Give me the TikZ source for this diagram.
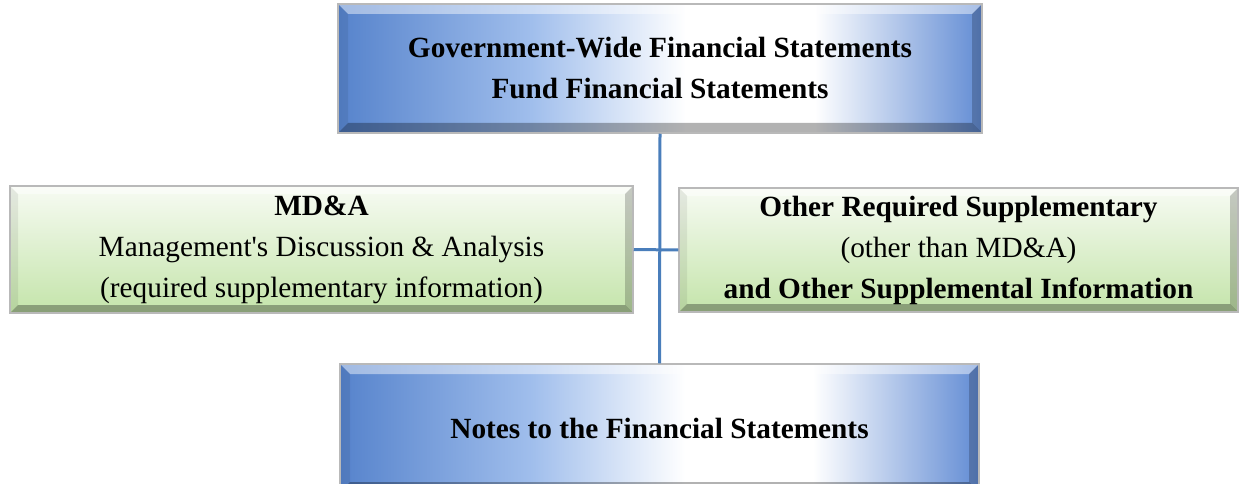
\documentclass[tikz,border=0pt]{standalone}
\usepackage{fontspec}
\setmainfont{Liberation Serif}[Ligatures=TeXOff]
\usetikzlibrary{calc}
\definecolor{bL}{RGB}{86,131,204}
\definecolor{bQ}{RGB}{160,190,236}
\definecolor{bR}{RGB}{98,140,212}
\definecolor{gT}{RGB}{247,251,243}
\definecolor{gB}{RGB}{196,228,170}
\definecolor{lineblue}{RGB}{74,126,187}
\definecolor{rim}{RGB}{185,185,185}
\pgfdeclarehorizontalshading{bluegrad}{100bp}{color(0bp)=(bL); color(25bp)=(bL); color(40bp)=(bQ); color(52bp)=(white); color(62bp)=(white); color(75bp)=(bR); color(100bp)=(bR)}
\tikzset{
  bevel/.style={path picture={
    \coordinate (bSW) at (path picture bounding box.south west);
    \coordinate (bSE) at (path picture bounding box.south east);
    \coordinate (bNW) at (path picture bounding box.north west);
    \coordinate (bNE) at (path picture bounding box.north east);
    \fill[white,opacity=0.45] (bNW) -- (bNE) -- ($(bNE)+(-#1,-#1)$) -- ($(bNW)+(#1,-#1)$) -- cycle;
    \fill[black,opacity=0.30] (bSW) -- (bSE) -- ($(bSE)+(-#1,#1)$) -- ($(bSW)+(#1,#1)$) -- cycle;
    \fill[black,opacity=0.07] (bNW) -- (bSW) -- ($(bSW)+(#1,#1)$) -- ($(bNW)+(#1,-#1)$) -- cycle;
    \fill[black,opacity=0.20] (bNE) -- (bSE) -- ($(bSE)+(-#1,#1)$) -- ($(bNE)+(-#1,-#1)$) -- cycle;
  }},
  boxtext/.style={align=center,font=\fontsize{29.3}{41}\selectfont,inner sep=0pt},
  bluebox/.style={boxtext,draw=rim,line width=1.5pt,shading=bluegrad,bevel=10pt},
  greenbox/.style={boxtext,draw=rim,line width=1.5pt,top color=gT,bottom color=gB,bevel=8pt},
  link/.style={draw=lineblue,line width=3pt},
}
\begin{document}
\begin{tikzpicture}[x=1pt,y=-1pt]
\useasboundingbox (0,0) rectangle (1245,484);
\node[bluebox,minimum width=644pt,minimum height=129pt] (top) at (660,68.5)
  {\textbf{Government-Wide Financial Statements}\\\textbf{Fund Financial Statements}};
\node[greenbox,minimum width=623pt,minimum height=127pt] (left) at (321.5,249.5)
  {\textbf{MD\&A}\\Management's Discussion \& Analysis\\(required supplementary information)};
\node[greenbox,minimum width=559pt,minimum height=124pt] (right) at (958.5,250)
  {\textbf{Other Required Supplementary}\\(other than MD\&A)\\\textbf{and Other Supplemental Information}};
\node[bluebox,minimum width=639pt,minimum height=128pt] (bottom) at (659.5,428)
  {\textbf{Notes to the Financial Statements}};
\draw[link] (top.south) -- (bottom.north);
\draw[link] (left.east) -- (right.west);
\end{tikzpicture}
\end{document}
